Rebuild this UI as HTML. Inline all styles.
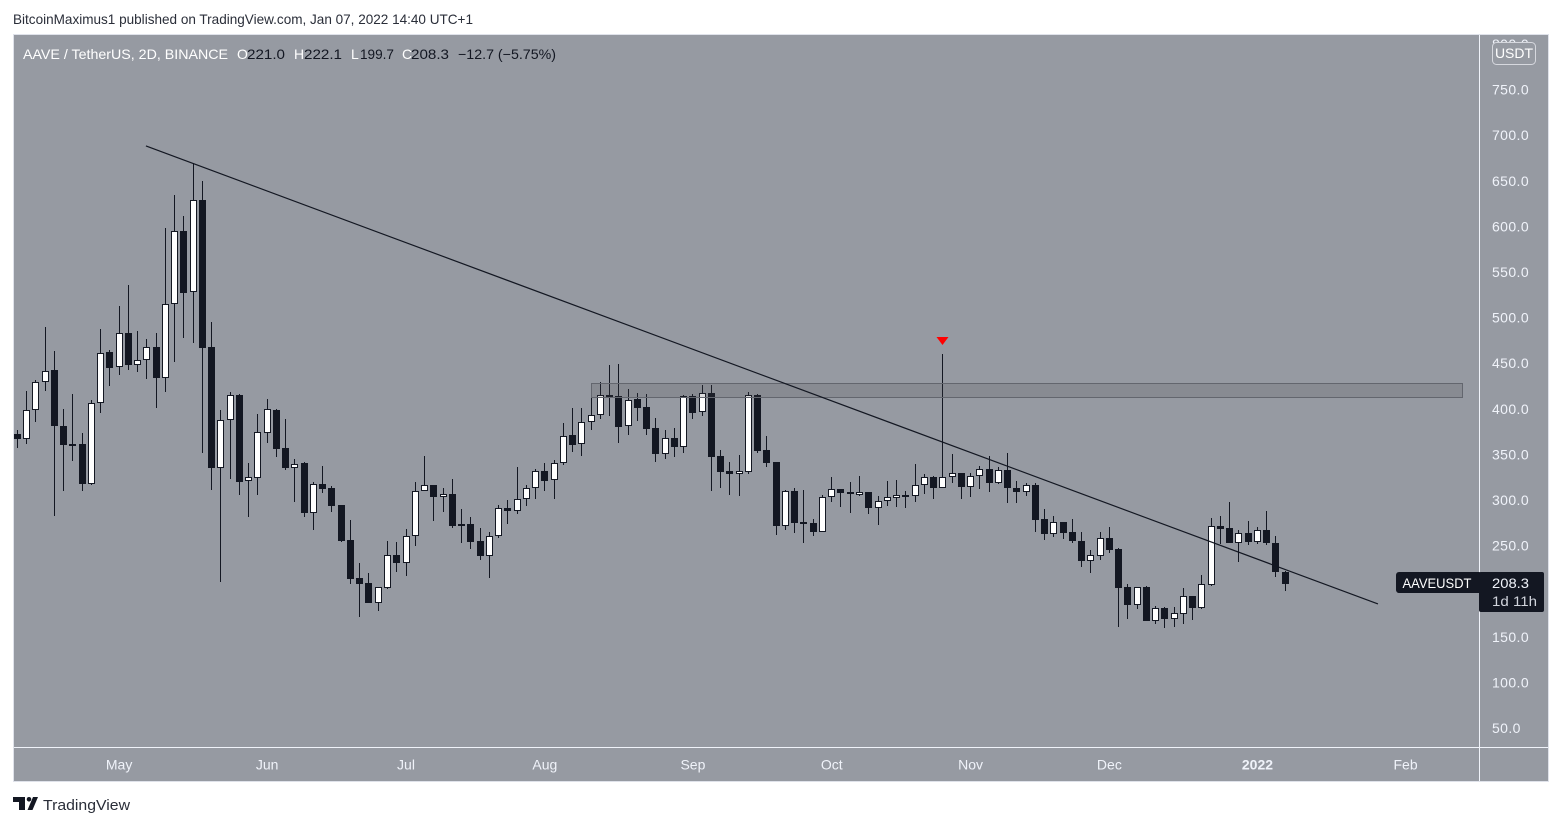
<!DOCTYPE html>
<html lang="en">
<head>
<meta charset="utf-8">
<title>AAVE / TetherUS chart</title>
<style>
html,body{margin:0;padding:0;background:#fff;width:1562px;height:826px;overflow:hidden}
svg{display:block}
text{font-family:"Liberation Sans",sans-serif}
</style>
</head>
<body>
<svg id="chart" xmlns="http://www.w3.org/2000/svg" width="1562" height="826" viewBox="0 0 1562 826">
  <rect x="0" y="0" width="1562" height="826" fill="#ffffff"/>
  <text x="13" y="24" font-size="14" fill="#2a2e39" textLength="460" lengthAdjust="spacingAndGlyphs">BitcoinMaximus1 published on TradingView.com, Jan 07, 2022 14:40 UTC+1</text>
  <rect x="13" y="34" width="1536" height="748" fill="#969aa2"/>
  <g id="price-ticks"></g>
  <g id="candles"></g>
  <g id="drawings"></g>
  <g id="time-ticks"></g>
  <rect x="1479" y="34" width="1" height="748" fill="#f0f3fa" shape-rendering="crispEdges"/>
  <rect x="13" y="747" width="1536" height="1" fill="#f0f3fa" shape-rendering="crispEdges"/>
  <rect x="13.5" y="34.5" width="1535" height="747" fill="none" stroke="#dfe2ea" stroke-width="1" shape-rendering="crispEdges"/>

  <g font-size="14">
    <text x="23" y="59" fill="#ffffff" textLength="205" lengthAdjust="spacingAndGlyphs">AAVE / TetherUS, 2D, BINANCE</text>
    <text x="237" y="59" fill="#ffffff">O</text>
    <text x="247" y="59" fill="#131722" textLength="38" lengthAdjust="spacingAndGlyphs">221.0</text>
    <text x="294" y="59" fill="#ffffff">H</text>
    <text x="304" y="59" fill="#131722" textLength="38" lengthAdjust="spacingAndGlyphs">222.1</text>
    <text x="351" y="59" fill="#ffffff">L</text>
    <text x="360" y="59" fill="#131722" textLength="34" lengthAdjust="spacingAndGlyphs">199.7</text>
    <text x="402" y="59" fill="#ffffff">C</text>
    <text x="411" y="59" fill="#131722" textLength="38" lengthAdjust="spacingAndGlyphs">208.3</text>
    <text x="458" y="59" fill="#131722" textLength="98" lengthAdjust="spacingAndGlyphs">−12.7 (−5.75%)</text>
  </g>

  <g>
    <rect x="1492.5" y="42.5" width="43" height="22" rx="4" fill="#969aa2" stroke="#d6d8de" stroke-width="1"/>
    <text x="1514" y="58" font-size="14" fill="#ffffff" text-anchor="middle">USDT</text>
  </g>

  <g>
    <rect x="1396" y="572" width="86" height="21" rx="3" fill="#131722"/>
    <text x="1437" y="588" font-size="14" fill="#ffffff" text-anchor="middle" textLength="69" lengthAdjust="spacingAndGlyphs">AAVEUSDT</text>
    <rect x="1479" y="572" width="65" height="40" rx="2" fill="#131722"/>
    <text x="1492" y="588" font-size="14" fill="#f0f3fa" textLength="37" lengthAdjust="spacingAndGlyphs">208.3</text>
    <text x="1492" y="606" font-size="14" fill="#d1d4dc" textLength="45" lengthAdjust="spacingAndGlyphs">1d 11h</text>
  </g>

  <g>
    <path d="M13 797H25V810H19V802H13ZM33 797H38L32.5 810H27.5Z" fill="#131722"/>
    <circle cx="29" cy="799.3" r="2.3" fill="#131722"/>
    <text x="43" y="810" font-size="15" fill="#2a2e39" textLength="87" lengthAdjust="spacingAndGlyphs">TradingView</text>
  </g>
</svg>
<script>
const opens = [
372.4,367.2,398.4,429.1,442.5,381.5,361.4,361.4,317.9,406,
462.3,445.5,483.1,448.4,453.2,467.8,433.5,514.6,595,527.7,
629,467.8,335.4,388,415.1,321.2,324.5,373,398.7,357,
335.4,340.6,286.1,317.5,313.2,294.5,256.1,214.5,209,187.4,
203.8,239.7,231.3,260.2,309.5,316.5,303.6,306.6,273.7,273.7,
255,238.9,260.2,290.9,288.3,300.8,312.8,331.5,321.6,340.2,
371.3,361,385.2,392.9,415.1,414,380.8,410.4,402,378.6,
350.8,367.7,358.4,414,396.1,417.3,348.3,331.8,328.8,331,
415.1,354.8,341.7,271.8,309.9,275.9,274.8,265.2,303.6,312.1,
308.8,306.3,308.8,290.9,298.6,302.5,305.5,304,316.1,325.2,
313.5,325.6,329.6,314.6,326,334,319,332.9,313.2,309.1,
316.5,279.2,263,275.9,264.9,255,233.4,238.9,258.3,246.3,
204.6,185.2,204.6,167.7,181.6,169.9,175.3,194.7,181.9,207.1,
271.2,269,253.2,263.8,254.3,267.1,252.9,221];
const highs = [
376.8,419.5,431.6,489.7,463.4,399.8,416.2,373.1,409.7,487.5,
464.5,512.7,535.7,485.3,476.5,483.1,597.9,634.4,611.4,669.2,
649.8,494.8,398.7,418.4,416.2,340.2,394.3,410.8,399.8,388.8,
345,341.7,319.4,337.3,315.4,294.5,278.1,230.9,220,204.3,
255,254,268.2,319.4,348.3,316.5,313.2,323,290.1,281.4,
269.3,264.9,294.2,300,336,316.1,333.7,340.6,343.5,384.1,
400.6,400.6,420.6,429.1,448,449.1,421.7,417.3,416.2,389.6,
376.8,378.6,414.8,416.2,426.1,426.1,354.8,341.7,349,418.1,
416.2,370.2,341.7,311,312.8,311,279.2,305.5,325.2,312.1,
319.7,326.3,308.8,304.4,320.8,321.9,309.9,339.5,328.5,326.3,
460.1,350.4,329.6,329.6,337,348.3,336,351.3,320.8,318.6,
318.6,290.1,282.5,275.9,279.2,264.9,245.2,264.9,270.4,247.4,
207.9,204.3,205.7,183.8,182.7,182.7,203.5,194.7,217.8,279.9,
282.5,297.8,266.8,277,270.1,288,260.5,222.1];
const lows = [
357,361.4,385.9,419.8,282.8,310.2,343.1,310.2,316.5,395.7,
425.3,437.4,442.9,440.7,433,401.2,418.8,451.6,478,471.8,
351.9,311,210.4,323.4,305.5,281.7,305.5,362.8,347.5,332.9,
298.1,281.7,267.4,308,287.2,254,208.2,172,187.4,178.6,
202.4,221.4,217,249.9,309.5,277.3,287.2,269.6,253.2,246.6,
234.5,214.8,258.7,273.9,284.9,293.8,301.4,310.2,301.4,338.7,
353,348.6,377.1,388.8,392.4,362.8,371.6,387,371.6,342,
345.3,347.5,351.9,388.8,392.4,310.2,313.5,305.8,304.7,328.8,
351.9,336.5,262,267.4,264.1,253.2,260.9,265.2,298.1,292.3,
286.1,304.4,285,272.9,293.4,292.3,291.2,297.8,306.6,301.1,
313.5,318.6,301.1,303.3,312.1,308.8,317.8,296.9,297,304.7,
265.2,256.5,259.8,257.6,253.2,226.9,220.3,234.5,242.2,161.1,
169.9,180.8,167.7,164,160,161.1,164.4,168.8,180.8,206,
251.8,253.2,232.4,250.7,252.1,250.7,215.9,199.7];
const closes = [
367.2,398.4,429.1,441.1,381.5,360.6,359.5,317.9,406,460.9,
445.1,482.8,448.4,453.2,467.4,434.1,514.6,594.6,527.3,628.6,
467,335.4,387.4,414.8,320.1,324.9,374.2,399.5,356.3,335.4,
339.2,286.1,317.2,312.1,293.8,255,213.7,208.2,187.4,204.3,
239.4,231.3,260.2,309.5,316.1,303.6,306.3,271.8,271.5,254.3,
238.9,260.2,290.9,288.3,300.8,312.8,331.5,321.2,340.2,369.9,
360.6,385.2,392.9,414.8,413.3,380.4,409.3,401.2,378.2,350.8,
367.7,358.4,413.7,395.7,417,347.5,331,328.8,331.5,414.8,
354.1,340.9,271.8,309.5,275.1,273.7,265.2,303,311.7,308,
306.9,308.4,291.6,298.6,303,305.2,303.6,316.1,324.9,313.5,
324.9,329.3,314.3,326,333.7,319,332.6,313.5,309.1,316.1,
278.4,263,275.6,264.1,255,233.4,239.4,258,245.5,203.8,
185.2,204.3,167.7,181.3,169.9,175.8,194.4,181.9,207.6,271.2,
268.5,253.2,263.5,254,266.8,253.2,221,208.3];
const priceTicks = [50,100,150,200,250,300,350,400,450,500,550,600,650,700,750,800];
const monthLabels = ["May","Jun","Jul","Aug","Sep","Oct","Nov","Dec","2022","Feb"];
const monthBars = [11,27,42,57,73,88,103,118,134,150];
const trendBars = [13.9,147.02];
const trendPrices = [688.2,186];
const zoneBars = [62,156.1];
const zonePrices = [428.3,413.2];
const arrowBar = 100;
const arrowPrice = 474.4;

const NS = 'http://www.w3.org/2000/svg';
function xAxis(i){ return 17.3 + 9.255 * i; }
function yAxis(p){ return 773.6 - 0.912 * p; }
function make(tag, attrs, parent){
  const el = document.createElementNS(NS, tag);
  for (const k in attrs) el.setAttribute(k, attrs[k]);
  parent.appendChild(el);
  return el;
}

const priceGroup = document.getElementById('price-ticks');
priceTicks.forEach(function(p){
  const t = make('text', {x:1492, y:yAxis(p)+5, 'font-size':14, fill:'#f0f3fa', 'letter-spacing':'0.4'}, priceGroup);
  
  
  t.textContent = p.toFixed(1);
});

const timeGroup = document.getElementById('time-ticks');
monthLabels.forEach(function(label, k){
  const t = make('text', {x:xAxis(monthBars[k]), y:769.5, 'font-size':14, fill:'#f0f3fa', 'text-anchor':'middle', 'font-weight':label === '2022' ? 'bold' : 'normal'}, timeGroup);
  
  
  t.textContent = label;
});

const candleGroup = document.getElementById('candles');
opens.forEach(function(open, i){
  const close = closes[i];
  const px = Math.floor(xAxis(i));
  const up = close >= open;
  const g = make('g', {'shape-rendering':'crispEdges'}, candleGroup);
  
  
  const hy = Math.round(yAxis(highs[i]));
  const ly = Math.round(yAxis(lows[i]));
  const wick = make('rect', {x:px, y:hy, width:1, height:Math.max(1, ly-hy), fill:'#131722'}, g);
  
  
  const top = Math.round(yAxis(Math.max(open, close)));
  const bot = Math.round(yAxis(Math.min(open, close)));
  const h = Math.max(up ? 3 : 2, bot-top);
  const body = make('rect', {x:px-3, y:top, width:7, height:h, fill:'#131722'}, g);
  
  
  if (up) {
    const fill = make('rect', {x:px-2, y:top+1, width:5, height:h-2, fill:'#ffffff'}, g);
    
    
  }
});

const drawGroup = document.getElementById('drawings');
const zx = xAxis(zoneBars[0]);
const zy = Math.round(yAxis(zonePrices[0]));
const zone = make('rect', {x:Math.round(zx)+0.5, y:zy+0.5, width:Math.round(xAxis(zoneBars[1])-zx), height:Math.round(yAxis(zonePrices[1]))-zy, fill:'rgba(70,72,78,0.18)', stroke:'#63666e', 'stroke-width':1, 'shape-rendering':'crispEdges'}, drawGroup);


const trend = make('line', {x1:xAxis(trendBars[0]), y1:yAxis(trendPrices[0]), x2:xAxis(trendBars[1]), y2:yAxis(trendPrices[1]), stroke:'#131722', 'stroke-width':1.2}, drawGroup);


const ax = Math.floor(xAxis(arrowBar)) + 0.5;
const ay = yAxis(arrowPrice);
const arrow = make('polygon', {points:(ax-6)+','+(ay-4)+' '+(ax+6)+','+(ay-4)+' '+ax+','+(ay+4), fill:'#ff0000'}, drawGroup);


</script>
</body>
</html>
